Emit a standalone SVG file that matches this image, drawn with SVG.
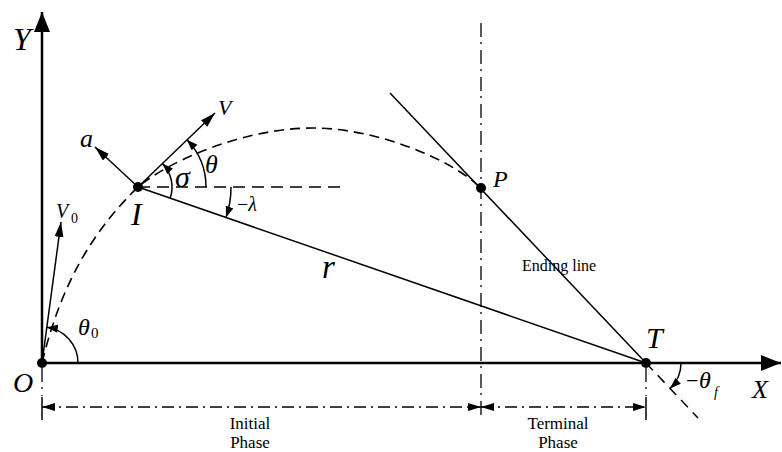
<svg xmlns="http://www.w3.org/2000/svg" width="782" height="452" viewBox="0 0 782 452">
<defs>
<style>
.ln{stroke:#000;fill:none;stroke-width:1.5}
.ax{stroke:#000;fill:none;stroke-width:2.5}
.traj{stroke:#000;fill:none;stroke-width:1.6;stroke-dasharray:10 6}
.dd{stroke:#000;fill:none;stroke-width:1.3;stroke-dasharray:14 5 2 6}
.dim{stroke:#000;fill:none;stroke-width:1.3;stroke-dasharray:12 5 2 5}
.m{font-family:"Liberation Serif","Times New Roman",serif;font-style:italic;fill:#000}
.t{font-family:"Liberation Serif","Times New Roman",serif;fill:#000}
.dot{fill:#000}
</style>
<marker id="axh" markerUnits="userSpaceOnUse" markerWidth="22" markerHeight="18" refX="20" refY="8" orient="auto"><path d="M0,0 L20,8 L0,16 Z" fill="#000"/></marker>
<marker id="vh" markerUnits="userSpaceOnUse" markerWidth="16" markerHeight="10" refX="15" refY="4.5" orient="auto"><path d="M0,0 L15,4.5 L0,9 Z" fill="#000"/></marker>
<marker id="ah" markerUnits="userSpaceOnUse" markerWidth="12" markerHeight="9" refX="11" refY="4" orient="auto"><path d="M0,0 L11,4 L0,8 Z" fill="#000"/></marker>
<marker id="dh" markerUnits="userSpaceOnUse" markerWidth="14" markerHeight="9" refX="13" refY="4" orient="auto-start-reverse"><path d="M0,0 L13,4 L0,8 Z" fill="#000"/></marker>
</defs>

<g id="axes">
<line class="ax" x1="42" y1="363" x2="42" y2="12" marker-end="url(#axh)"/>
<line class="ax" x1="42" y1="363" x2="781" y2="363" marker-end="url(#axh)"/>
<text class="m" x="13" y="50" font-size="32">Y</text>
<text class="m" x="752" y="398" font-size="26">X</text>
</g>

<g id="connectors">
<path id="trajectory" class="traj" d="M42,363 C61.8,280.4 94.8,229.4 138,187 C168.6,161.3 243,128 313,128 C373,128 448.6,157 481,188"/>
<line id="ref-horizontal" class="ln" x1="138" y1="187" x2="343" y2="187" style="stroke-dasharray:12 7"/>
<line id="los" class="ln" x1="138" y1="187" x2="646" y2="363"/>
<line id="ending-line" class="ln" x1="390" y1="93" x2="646" y2="363"/>
<line id="ending-ext" class="ln" x1="646" y1="363" x2="698" y2="418" style="stroke-dasharray:10 7"/>
<line id="vec-V" class="ln" x1="138" y1="187" x2="215" y2="113" marker-end="url(#vh)"/>
<line id="vec-a" class="ln" x1="138" y1="187" x2="95" y2="147" marker-end="url(#vh)"/>
<line id="vec-V0" class="ln" x1="42" y1="363" x2="61" y2="222" marker-end="url(#vh)"/>
<path id="arc-theta" class="ln" d="M206,187 A68,68 0 0 0 186.9,139.7" marker-end="url(#ah)"/>
<path id="arc-sigma" class="ln" d="M170.2,198.1 A34,34 0 0 0 162.4,163.4" marker-end="url(#ah)"/>
<path id="arc-lambda" class="ln" d="M231,187 A93,93 0 0 1 226,217.4" marker-end="url(#ah)"/>
<path id="arc-theta0" class="ln" d="M78,363 A36,36 0 0 0 46.8,327.3" marker-end="url(#ah)"/>
<path id="arc-thetaf" class="ln" d="M681,363 A35,35 0 0 1 670.1,388.4" marker-end="url(#ah)"/>
<line id="vert-P" class="dd" x1="481" y1="23" x2="481" y2="420"/>
<line id="vert-O" class="dd" x1="42" y1="368" x2="42" y2="396"/>
<line id="vert-T" class="dd" x1="646" y1="368" x2="646" y2="396"/>
<line class="ln" x1="42" y1="397" x2="42" y2="420"/>
<line class="ln" x1="646" y1="397" x2="646" y2="420"/>
<line id="dim-initial" class="dim" x1="42" y1="407" x2="481" y2="407" marker-start="url(#dh)" marker-end="url(#dh)"/>
<line id="dim-terminal" class="dim" x1="481" y1="407" x2="646" y2="407" marker-start="url(#dh)" marker-end="url(#dh)"/>
</g>

<g id="node-O">
<circle class="dot" cx="42" cy="363" r="5"/>
<text class="m" x="13" y="392" font-size="28">O</text>
</g>
<g id="node-I">
<circle class="dot" cx="138" cy="187" r="5"/>
<text class="m" x="131" y="225" font-size="32">I</text>
</g>
<g id="node-P">
<circle class="dot" cx="481" cy="188" r="5"/>
<text class="m" x="493" y="187" font-size="24">P</text>
</g>
<g id="node-T">
<circle class="dot" cx="646" cy="363" r="5"/>
<text class="m" x="646" y="348" font-size="30">T</text>
</g>

<g id="labels">
<text class="m" x="80" y="147" font-size="26">a</text>
<text class="m" x="218" y="115" font-size="22">V</text>
<text class="m" x="56" y="218" font-size="20">V</text>
<text class="t" x="71" y="223" font-size="14">0</text>
<text class="m" x="205" y="173" font-size="26">θ</text>
<text class="m" x="175" y="187" font-size="30">σ</text>
<text class="t" x="237" y="211" font-size="20">−<tspan class="m">λ</tspan></text>
<text class="m" x="322" y="278" font-size="33">r</text>
<text class="m" x="78" y="335" font-size="24">θ</text>
<text class="t" x="91" y="338" font-size="15">0</text>
<text class="t" x="686" y="388" font-size="22">−</text>
<text class="m" x="699" y="388" font-size="24">θ</text>
<text class="m" x="714" y="397" font-size="14">f</text>
<text class="t" x="522" y="271" font-size="16">Ending line</text>
<text class="t" x="250" y="429" font-size="17" text-anchor="middle">Initial</text>
<text class="t" x="250" y="448" font-size="17" text-anchor="middle">Phase</text>
<text class="t" x="558" y="429" font-size="17" text-anchor="middle">Terminal</text>
<text class="t" x="558" y="448" font-size="17" text-anchor="middle">Phase</text>
</g>
</svg>
